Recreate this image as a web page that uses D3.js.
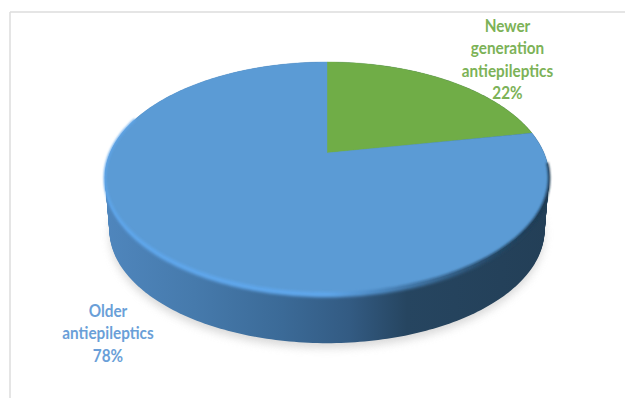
<!DOCTYPE html>
<html>
<head>
<meta charset="utf-8">
<script src="https://cdn.jsdelivr.net/npm/d3@7"></script>
<style>
  html, body { margin: 0; padding: 0; background: #fff; }
  svg { display: block; }
  text { font-family: Lato, "Open Sans", sans-serif; font-weight: 700; font-size: 17px; text-anchor: middle; }
</style>
</head>
<body>
<svg id="chart" width="625" height="398"></svg>
<script>
// Share of antiepileptic prescriptions, in percent
const categories = ["Newer generation antiepileptics", "Older antiepileptics"];
const shares = [22, 78];
const sliceColors = ["#70ad47", "#5b9bd5"];
const labelColors = ["#7cb257", "#6a9fd8"];
const labelLines = [["Newer", "generation", "antiepileptics", "22%"], ["Older", "antiepileptics", "78%"]];

const W = 625, H = 398;
const svg = d3.select("#chart").attr("viewBox", [0, 0, W, H]);
const defs = svg.append("defs");

// Perspective view of a flat disc: unit-disc coordinates to the page
const view = { cx: 327, apexY: 153, a: 217, b: 110.3, k: -0.212 };
const wallDepth = 53;
function project(angle, depth) {
  const u = Math.sin(angle), v = -Math.cos(angle);
  const w = 1 + view.k * v;
  const shrink = 1 - depth * 0.00038;
  return [
    view.cx + view.a * shrink * u / w,
    view.apexY + view.b * shrink * v / w + depth
  ];
}
const outline = d3.line().curve(d3.curveLinearClosed);
const openLine = d3.line();
const rim = (depth) => outline(d3.range(0, 360).map(d => project(d * Math.PI / 180, depth)));

// Frame of the chart area
const frame = svg.append("g").attr("stroke", "#dcdcdc").attr("stroke-width", 1.5);
frame.append("line").attr("x1", 10).attr("y1", 12).attr("x2", W).attr("y2", 12);
frame.append("line").attr("x1", 10).attr("y1", 12).attr("x2", 10).attr("y2", H);

// Soft ground shadow
defs.append("filter").attr("id", "ground").attr("x", "-10%").attr("y", "-10%").attr("width", "120%").attr("height", "120%")
  .append("feGaussianBlur").attr("stdDeviation", 4);
svg.append("path").attr("d", rim(58))
  .attr("fill", "#cfcfcf").attr("opacity", 0.8).attr("filter", "url(#ground)");

// Disc wall, lit from the left
const wallStops = [
  [0, "#4f86bd"], [0.2, "#467aac"], [0.4, "#3b6a97"], [0.55, "#335b83"],
  [0.68, "#264560"], [1, "#233f57"]
];
const wallGrad = defs.append("linearGradient").attr("id", "wall")
  .attr("gradientUnits", "userSpaceOnUse")
  .attr("x1", 105).attr("x2", 549).attr("y1", 0).attr("y2", 0);
wallStops.forEach(s => wallGrad.append("stop").attr("offset", s[0]).attr("stop-color", s[1]));

const wall = svg.append("g").attr("fill", "url(#wall)");
d3.range(0, wallDepth + 1).forEach(d => wall.append("path").attr("d", rim(d)));

// Bevelled edge below the top face
const bevelGrad = defs.append("linearGradient").attr("id", "bevel")
  .attr("gradientUnits", "userSpaceOnUse")
  .attr("x1", 105).attr("x2", 549).attr("y1", 0).attr("y2", 0);
[[0, "#5fa6ea"], [0.5, "#5fa6ea"], [0.72, "#3d6f9d"], [0.88, "#254866"], [1, "#1d3850"]]
  .forEach(s => bevelGrad.append("stop").attr("offset", s[0]).attr("stop-color", s[1]));
defs.append("filter").attr("id", "soft").attr("x", "-5%").attr("y", "-5%").attr("width", "110%").attr("height", "110%")
  .append("feGaussianBlur").attr("stdDeviation", 1.6);
svg.append("path").attr("d", rim(4.5)).attr("fill", "url(#bevel)").attr("filter", "url(#soft)");

// Pie faces
const pie = d3.pie().sort(null).value(d => d);
const arcs = pie(shares);
const wedge = (d) => {
  const n = Math.ceil((d.endAngle - d.startAngle) * 60);
  const pts = d3.range(n + 1).map(i => project(d.startAngle + (d.endAngle - d.startAngle) * i / n, 0));
  return outline([[view.cx, view.apexY], ...pts]);
};
svg.append("g").selectAll("path").data(arcs).join("path")
  .attr("d", wedge)
  .attr("fill", (d, i) => sliceColors[i])
  .attr("stroke", (d, i) => sliceColors[i])
  .attr("stroke-width", 0.4);

// Thin lit or shaded lip along the lower part of the face
defs.append("filter").attr("id", "lip").attr("x", "-5%").attr("y", "-5%").attr("width", "110%").attr("height", "110%")
  .append("feGaussianBlur").attr("stdDeviation", 0.8);
svg.append("path")
  .attr("d", openLine(d3.range(95, 290).map(d => project(d * Math.PI / 180, 0))))
  .attr("fill", "none").attr("stroke", "url(#bevel)").attr("stroke-width", 2.2)
  .attr("filter", "url(#lip)");

// Slice labels, narrowed to the width of a condensed bold face
const labelX = [507.5, 108];
const labelBaseline = [32, 317];
const lineStep = 22.3;
const squeeze = 0.9;
const labels = svg.append("g").selectAll("text").data(categories).join("text")
  .attr("fill", (d, i) => labelColors[i])
  .attr("aria-label", d => d);
labels.each(function (d, i) {
  d3.select(this).selectAll("tspan").data(labelLines[i]).join("tspan")
    .attr("x", labelX[i])
    .attr("y", (t, j) => labelBaseline[i] + j * lineStep)
    .text(t => t);
  const self = d3.select(this);
  self.attr("transform", `translate(${labelX[i]},0) scale(${squeeze},1) translate(${-labelX[i]},0)`);
});
</script>
</body>
</html>
